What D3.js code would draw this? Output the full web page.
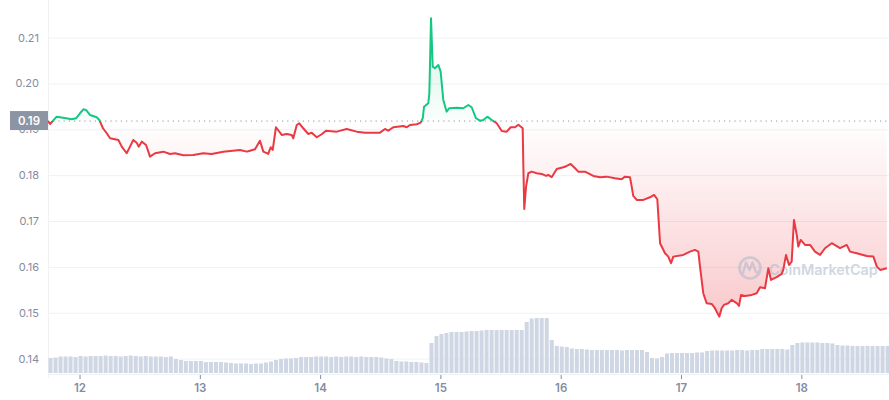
<!DOCTYPE html>
<html><head><meta charset="utf-8">
<script src="https://cdn.jsdelivr.net/npm/d3@7"></script>
<style>html,body{margin:0;padding:0;background:#fff;} svg{display:block;font-family:Inter,"Noto Sans",sans-serif;}</style>
</head><body><svg id="c" width="889" height="400"></svg>
<script>
const dayTicks = [12, 13, 14, 15, 16, 17, 18];
const priceTicks = [0.14, 0.15, 0.16, 0.17, 0.18, 0.19, 0.20, 0.21];
const baseline = 0.1918;
const badgeLabel = "0.19";
const priceTimes = [11.738,11.755,11.810,11.863,11.935,11.971,12.004,12.032,12.054,12.087,12.143,12.165,12.195,12.226,12.254,12.323,12.351,12.392,12.420,12.447,12.475,12.492,12.517,12.553,12.572,12.586,12.628,12.697,12.752,12.794,12.863,12.946,13.029,13.099,13.195,13.334,13.390,13.417,13.459,13.500,13.528,13.569,13.589,13.606,13.633,13.681,13.722,13.764,13.777,13.806,13.827,13.860,13.902,13.930,13.972,14.013,14.049,14.138,14.221,14.304,14.373,14.442,14.498,14.539,14.567,14.608,14.692,14.720,14.747,14.803,14.836,14.853,14.864,14.899,14.908,14.922,14.936,14.955,14.983,15.002,15.024,15.052,15.073,15.135,15.190,15.232,15.260,15.296,15.329,15.357,15.390,15.427,15.468,15.510,15.551,15.584,15.620,15.648,15.684,15.689,15.697,15.712,15.731,15.759,15.800,15.842,15.878,15.897,15.925,15.967,16.022,16.050,16.083,16.119,16.146,16.202,16.271,16.327,16.382,16.451,16.507,16.534,16.576,16.590,16.603,16.632,16.687,16.742,16.776,16.803,16.826,16.867,16.894,16.917,16.936,17.019,17.075,17.116,17.144,17.158,17.185,17.213,17.255,17.282,17.318,17.338,17.357,17.393,17.421,17.463,17.482,17.499,17.532,17.588,17.629,17.657,17.698,17.726,17.748,17.795,17.837,17.850,17.873,17.898,17.920,17.939,17.962,17.975,17.995,18.031,18.073,18.114,18.156,18.197,18.253,18.322,18.378,18.405,18.461,18.544,18.599,18.628,18.655,18.711];
const priceValues = [0.19180,0.19116,0.19276,0.19254,0.19219,0.19241,0.19350,0.19437,0.19422,0.19313,0.19263,0.19204,0.19023,0.18914,0.18805,0.18768,0.18622,0.18478,0.18622,0.18768,0.18709,0.18622,0.18731,0.18659,0.18513,0.18404,0.18478,0.18513,0.18463,0.18478,0.18434,0.18441,0.18478,0.18463,0.18513,0.18550,0.18513,0.18534,0.18565,0.18752,0.18513,0.18463,0.18609,0.18550,0.19045,0.18877,0.18899,0.18877,0.18805,0.19095,0.19132,0.19023,0.18898,0.18927,0.18827,0.18892,0.18970,0.18949,0.19007,0.18949,0.18927,0.18927,0.18927,0.19007,0.18970,0.19045,0.19073,0.19045,0.19095,0.19110,0.19145,0.19241,0.19494,0.19568,0.19786,0.21421,0.20366,0.20331,0.20403,0.20257,0.19640,0.19385,0.19459,0.19472,0.19459,0.19531,0.19481,0.19241,0.19188,0.19204,0.19276,0.19204,0.19132,0.18964,0.18949,0.19045,0.19045,0.19101,0.19023,0.18260,0.17263,0.17750,0.18042,0.18077,0.18042,0.18027,0.17983,0.18005,0.17955,0.18135,0.18173,0.18201,0.18244,0.18151,0.18077,0.18077,0.17983,0.17955,0.17968,0.17933,0.17911,0.17968,0.17955,0.17750,0.17547,0.17460,0.17460,0.17518,0.17569,0.17475,0.16516,0.16298,0.16224,0.16080,0.16224,0.16261,0.16333,0.16370,0.16333,0.16006,0.15426,0.15208,0.15192,0.15099,0.14915,0.15099,0.15171,0.15208,0.15280,0.15208,0.15149,0.15389,0.15367,0.15389,0.15426,0.15557,0.15535,0.15971,0.15716,0.15775,0.15847,0.15934,0.16261,0.16043,0.16115,0.17024,0.16697,0.16442,0.16588,0.16479,0.16479,0.16333,0.16261,0.16407,0.16516,0.16407,0.16479,0.16333,0.16298,0.16239,0.16224,0.16006,0.15934,0.15971];
const volumeStart = 11.738;
const volumeStepDays = 1 / 24;
const volumes = [16,16.5,17.5,17.5,17.5,17, 18,17.5,18,18,18,18.5,18,18,17.5, 18,18.5,18,17.5,18,17.5,17.5,17.5,17,17.5, 15,14, 13,13,13,13, 12,12,12,12,11.5, 11,10.5,10.5,10.5,10,10.5,10.5, 11.5,12.5,14, 15,15.5,15.5,16, 17,17,17,17.5,17.5,17.5,17,17.5,17,17.5,17.5,17,17.5,17,17,17,16.5, 15.5,15, 13,12.5,12.5,12,12,11.5, 11, 31, 38, 40,41, 42,42,42,42.5, 43,43, 43.5,44,44,44,44,44,44,44,44, 52, 55.5,56,56,56, 34, 28,27.5,27, 25.5,25,25, 24.5,24,24,24,24,24,24,23.5,24,24,24,24, 22, 16,15.5,17, 20.5,21,21,21,21,21,21.5,21.5, 23,23.5,23.5,23.5,23.5,23.5,24,24,23.5,24,24, 25,25,25,25,25,24.5, 29, 31,31.5,31.5,31.5,31.5,31,31,30.5, 29,28.5,28.5,28,28,28,28,28,28,28,28];

const GREEN = "#16c784", RED = "#ea3943";
const L = 48, R = 889, B = 374;
const svg = d3.select("#c");
const x = d3.scaleLinear().domain([11.738, 18.729]).range([L, R]);
const y = d3.scaleLinear().domain([0.14, 0.21]).range([358.6, 37.6]);
const yv = d3.scaleLinear().domain([0, 60]).range([B, B - 60]);
const data = priceTimes.map((t, i) => ({t, v: priceValues[i]}));
const yb = y(baseline);

const defs = svg.append("defs");
defs.append("clipPath").attr("id", "above").append("rect").attr("x", L).attr("y", 0).attr("width", R - L).attr("height", yb);
defs.append("clipPath").attr("id", "below").append("rect").attr("x", L).attr("y", yb).attr("width", R - L).attr("height", 400 - yb);
const gr = defs.append("linearGradient").attr("id", "gRed").attr("gradientUnits", "userSpaceOnUse").attr("x1", 0).attr("x2", 0).attr("y1", yb).attr("y2", y(0.149));
gr.append("stop").attr("offset", 0).attr("stop-color", RED).attr("stop-opacity", 0);
gr.append("stop").attr("offset", 1).attr("stop-color", RED).attr("stop-opacity", 0.27);
const gg = defs.append("linearGradient").attr("id", "gGreen").attr("gradientUnits", "userSpaceOnUse").attr("x1", 0).attr("x2", 0).attr("y1", yb).attr("y2", y(0.214));
gg.append("stop").attr("offset", 0).attr("stop-color", GREEN).attr("stop-opacity", 0.02);
gg.append("stop").attr("offset", 1).attr("stop-color", GREEN).attr("stop-opacity", 0.2);

// grid
svg.append("g").attr("transform", `translate(${L},0)`)
  .call(d3.axisLeft(y).tickValues(priceTicks).tickSize(-(R - L)).tickFormat(""))
  .call(g => g.select(".domain").remove())
  .call(g => g.selectAll("line").attr("stroke", "#eff2f5"));
svg.append("line").attr("x1", L + 0.5).attr("x2", L + 0.5).attr("y1", 0).attr("y2", B).attr("stroke", "#eff2f5");

// volume bars
const bw = x(volumeStart + volumeStepDays) - x(volumeStart);
svg.append("g").selectAll("rect").data(volumes).join("rect")
  .attr("x", (d, i) => x(volumeStart + i * volumeStepDays) + 0.5)
  .attr("width", bw - 1)
  .attr("y", d => yv(d))
  .attr("height", d => yv(0) - yv(d) - 1)
  .attr("fill", "#cfd6e4");

// areas
const area = d3.area().x(d => x(d.t)).y0(yb).y1(d => y(d.v));
svg.append("path").datum(data).attr("d", area).attr("fill", "url(#gGreen)").attr("clip-path", "url(#above)");
svg.append("path").datum(data).attr("d", area).attr("fill", "url(#gRed)").attr("clip-path", "url(#below)");

// watermark
const wm = svg.append("g").attr("opacity", 0.55);
wm.append("circle").attr("cx", 750).attr("cy", 268).attr("r", 10.5).attr("fill", "none").attr("stroke", "#aab8cc").attr("stroke-width", 2.6);
wm.append("path").attr("d", "M743,273 L746,262.5 L749.5,270 L752.5,262.5 L755.5,271 Q757,274 759,271").attr("fill", "none").attr("stroke", "#aab8cc").attr("stroke-width", 2.4).attr("stroke-linejoin", "round").attr("stroke-linecap", "round");
const wmt = wm.append("text").attr("x", 769).attr("y", 275).attr("font-size", 18).attr("font-weight", 600).attr("fill", "#aab8cc").text("CoinMarketCap");
const tl = wmt.node().getComputedTextLength();
wmt.attr("font-size", 18 * 109 / tl);

// baseline dotted
svg.append("line").attr("x1", L).attr("x2", R).attr("y1", yb).attr("y2", yb)
  .attr("stroke", "#8d94a6").attr("stroke-width", 1).attr("stroke-dasharray", "1.2,4");

// lines
const line = d3.line().x(d => x(d.t)).y(d => y(d.v));
svg.append("path").datum(data).attr("d", line).attr("fill", "none").attr("stroke", GREEN).attr("stroke-width", 2).attr("stroke-linejoin", "round").attr("clip-path", "url(#above)");
svg.append("path").datum(data).attr("d", line).attr("fill", "none").attr("stroke", RED).attr("stroke-width", 2).attr("stroke-linejoin", "round").attr("clip-path", "url(#below)");

// y axis labels
svg.append("g").attr("transform", `translate(39,0)`)
  .call(d3.axisLeft(y).tickValues(priceTicks).tickSize(0).tickPadding(0).tickFormat(d3.format(".2f")))
  .call(g => g.select(".domain").remove())
  .call(g => g.selectAll("text").attr("fill", "#858ca2").attr("font-size", 11).attr("font-family", "Inter,sans-serif"));

// x axis
svg.append("g").attr("transform", `translate(0,${B})`)
  .call(d3.axisBottom(x).tickValues(dayTicks).tickSize(4).tickPadding(6).tickFormat(d3.format("d")))
  .call(g => g.select(".domain").attr("stroke", "#eff2f5"))
  .call(g => g.selectAll(".tick line").attr("stroke", "#858ca2").attr("transform", "translate(0,1)"))
  .call(g => g.selectAll("text").attr("fill", "#858ca2").attr("font-size", 11.5).attr("font-weight", 600).attr("font-family", "Inter,sans-serif"));

// badge
svg.append("rect").attr("x", 10).attr("y", yb - 10).attr("width", L - 10).attr("height", 19).attr("fill", "#8d94a3");
svg.append("text").attr("x", 29).attr("y", yb).attr("dy", "0.35em").attr("text-anchor", "middle")
  .attr("fill", "#fff").attr("font-size", 11.5).attr("font-weight", 600).text(badgeLabel);
</script></body></html>
